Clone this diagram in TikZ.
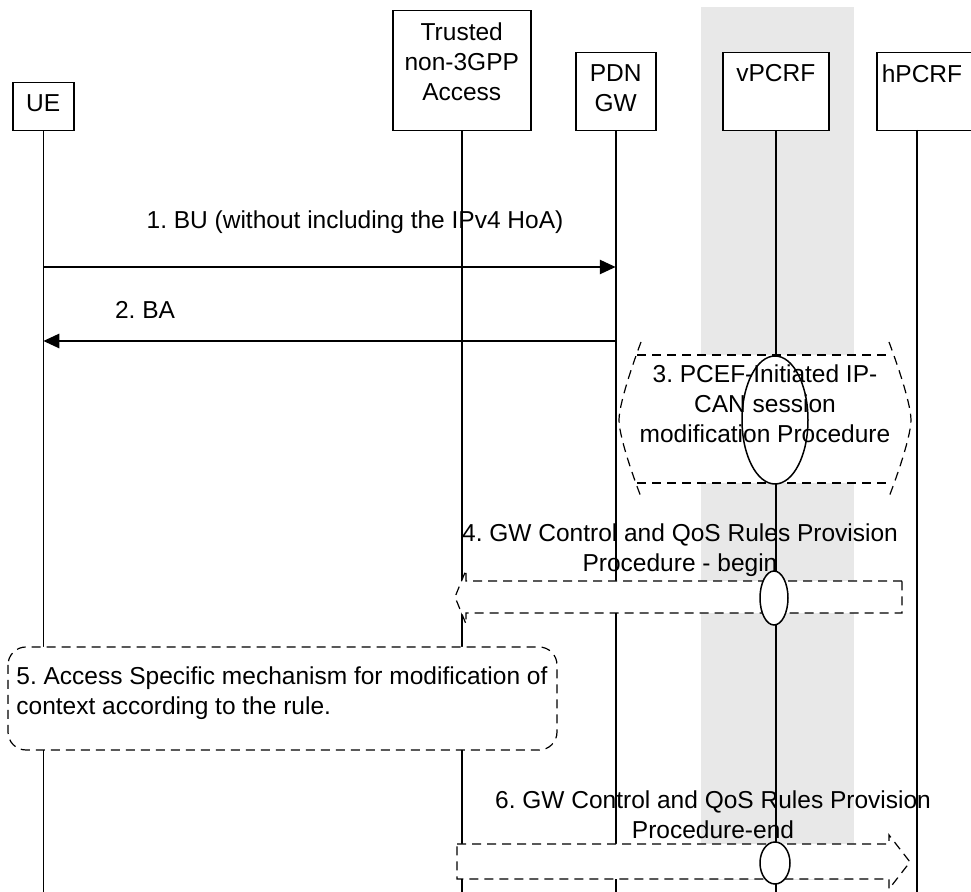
\documentclass[tikz,border=0pt]{standalone}
\usepackage{fontspec}
\setmainfont{Liberation Sans}
\usetikzlibrary{arrows.meta}
\frenchspacing

\begin{document}
\begin{tikzpicture}[x=0.5pt, y=-0.5pt,
    every node/.style={font=\fontsize{12.25pt}{15pt}\selectfont},
    entity/.style={draw, line width=0.75pt, fill=white, inner sep=0pt, anchor=north west},
    boxtext/.style={anchor=north, align=center, inner sep=0pt, yshift=-6pt},
    life/.style={line width=0.75pt},
    msg/.style={line width=1.3pt, -{Triangle[length=8pt,width=7pt]}},
    proc/.style={dashed, dash pattern=on 4.5pt off 3pt, line width=0.6pt, fill=white},
    steptext/.style={align=center, inner sep=0pt},
    proccirc/.style={line width=0.75pt, fill=white}]
    \useasboundingbox (0,0) rectangle (971,892);

    % --- shaded column behind vPCRF ---
    \fill[gray!18] (701,7) rectangle (854,880);

    % --- entities: (name, top-left corner, size in pt) ---
    \node[entity, minimum width=30.5pt, minimum height=24pt] (ue)  at (12,82)  {};
    \node[entity, minimum width=69pt,   minimum height=60pt] (tn)  at (392,10) {};
    \node[entity, minimum width=40pt,   minimum height=39pt] (pgw) at (575,52) {};
    \node[entity, minimum width=53pt,   minimum height=39pt] (vp)  at (722,52) {};
    \node[entity, minimum width=62pt,   minimum height=39pt] (hp)  at (876,52) {};
    \node[boxtext] (ue-l)  at (ue.north)  {UE};
    \node[boxtext] (tn-l)  at (tn.north)  {Trusted\\non-3GPP\\Access};
    \node[boxtext] (pgw-l) at (pgw.north) {PDN\\GW};
    \node[boxtext] (vp-l)  at (vp.north)  {vPCRF};
    \node[boxtext] (hp-l)  at (922,52)    {hPCRF};

    % --- lifelines ---
    \foreach \n in {ue,tn,pgw,vp}{
      \coordinate (\n-end) at (\n.south |- 0,892);
      \draw[life] (\n.south) -- (\n-end);
    }
    \coordinate (hp-top) at (917,130);
    \coordinate (hp-end) at (917,892);
    \draw[life] (hp-top) -- (hp-end);

    % --- 1 and 2: binding update / ack ---
    \draw[msg] (ue.south |- 0,267) -- (pgw.south |- 0,267);
    \node[steptext] (m1) at (355,222) {1. BU (without including the IPv4 HoA)};
    \draw[msg] (pgw.south |- 0,341) -- (ue.south |- 0,341);
    \node[steptext] (m2) at (145,310) {2. BA};

    % --- 3: IP-CAN session modification ---
    \fill[white] (637,355) -- (892,355) -- (911,420) -- (892,483) -- (637,483) -- (619,420) -- cycle;
    \draw[proc] (637,355) -- (892,355) (637,483) -- (892,483);
    \draw[proc, fill=none] (641,342) .. controls (625,385) and (619,410) .. (619,420)
      .. controls (619,430) and (625,455) .. (641,497);
    \draw[proc, fill=none] (889,342) .. controls (905,385) and (911,410) .. (911,420)
      .. controls (911,430) and (905,455) .. (889,497);
    \draw[proccirc] (775,420) ellipse [x radius=33, y radius=64];
    \node[steptext] (s3) at (765,404) {3. PCEF-Initiated IP-\\CAN session\\modification Procedure};

    % --- 4: provision begin (points left) ---
    \node[steptext] (s4) at (680,550) {4. GW Control and QoS Rules Provision\\Procedure - begin};
    \draw[proc] (902,581) -- (466,581) -- (466,570) -- (455,597) -- (466,624)
      -- (466,613) -- (902,613) -- cycle;
    \draw[proccirc] (774,598) ellipse [x radius=14, y radius=27];

    % --- 5: access specific mechanism ---
    \draw[proc, rounded corners=9pt] (8,647) rectangle (557,750);
    \node[steptext, anchor=north west, align=left] (s5) at (16,666)
      {5. Access Specific mechanism for modification of\\context according to the rule.};

    % --- 6: provision end (points right) ---
    \node[steptext] (s6) at (713,815) {6. GW Control and QoS Rules Provision\\Procedure-end};
    \draw[proc] (457,844) -- (889,844) -- (889,835) -- (910,862) -- (889,889)
      -- (889,879) -- (457,879) -- cycle;
    \draw[proccirc] (775,863) ellipse [x radius=15, y radius=21];
  \end{tikzpicture}
\end{document}
